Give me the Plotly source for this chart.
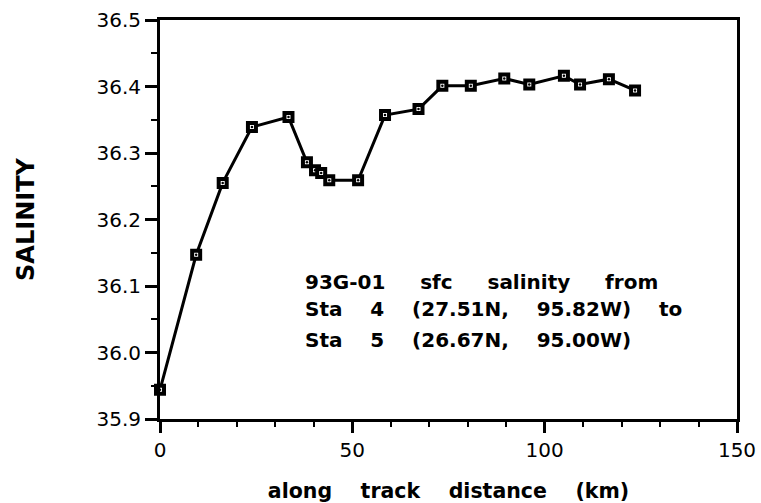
import plotly.graph_objects as go

# Surface salinity along the ship track, cruise 93G-01
distance_km = [0.0, 9.4, 16.3, 23.9, 33.4, 38.2, 40.3, 41.9, 44.0, 51.5,
               58.5, 67.2, 73.4, 80.8, 89.5, 96.0, 105.0, 109.2, 116.7, 123.5]
salinity = [35.944, 36.147, 36.255, 36.339, 36.354, 36.286, 36.274, 36.270, 36.259, 36.259,
            36.357, 36.366, 36.401, 36.401, 36.412, 36.403, 36.416, 36.403, 36.411, 36.394]

x_ticks = [0, 50, 100, 150]
y_ticks = [35.9, 36.0, 36.1, 36.2, 36.3, 36.4, 36.5]

NB = "\u00a0"
def spaced(words, n):
    return (NB * n).join(words)

note_lines = [
    spaced(["93G-01", "sfc", "salinity", "from"], 5),
    spaced(["Sta", "4", "(27.51N,", "95.82W)", "to"], 4),
    spaced(["Sta", "5", "(26.67N,", "95.00W)"], 4),
]

fig = go.Figure()
# connecting line with heavy open square markers
fig.add_trace(go.Scatter(
    x=distance_km, y=salinity, mode="lines+markers",
    line=dict(color="black", width=3),
    marker=dict(symbol="square", size=8, color="white",
                line=dict(color="black", width=4)),
    cliponaxis=False, showlegend=False,
))
# small centre dot inside each square
fig.add_trace(go.Scatter(
    x=distance_km, y=salinity, mode="markers",
    marker=dict(symbol="circle", size=2.5, color="black", line=dict(width=0)),
    cliponaxis=False, showlegend=False, hoverinfo="skip",
))

tick_font = dict(family="DejaVu Sans", size=20, color="black")
title_font = dict(family="DejaVu Sans", size=20, color="black", weight="bold")

fig.update_xaxes(
    range=[0, 150], tickvals=x_ticks, ticktext=[str(v) for v in x_ticks],
    showline=True, linecolor="black", linewidth=3, mirror=True,
    ticks="outside", ticklen=11, tickwidth=3, tickcolor="black",
    minor=dict(dtick=10, ticks="outside", ticklen=5, tickwidth=2, tickcolor="black"),
    showgrid=False, zeroline=False, tickfont=tick_font,
    title=dict(text=spaced(["along", "track", "distance", "(km)"], 4),
               font=dict(family="DejaVu Sans", size=20.5, color="black", weight="bold"),
               standoff=23),
)
fig.update_yaxes(
    range=[35.9, 36.5], tickvals=y_ticks, ticktext=[f"{v:.1f}" for v in y_ticks],
    showline=True, linecolor="black", linewidth=3, mirror=True,
    ticks="outside", ticklen=12, tickwidth=3, tickcolor="black",
    minor=dict(dtick=0.05, ticks="outside", ticklen=6, tickwidth=2, tickcolor="black"),
    showgrid=False, zeroline=False, tickfont=tick_font,
    title=dict(text="SALINITY", font=dict(family="DejaVu Sans", size=24,
                                          color="black", weight="bold"), standoff=56),
)

for txt, yp in zip(note_lines, [0.343, 0.2757, 0.198]):
    fig.add_annotation(text=txt, xref="paper", yref="paper", x=0.248, y=yp,
                       xanchor="left", yanchor="middle", showarrow=False,
                       font=title_font)

fig.update_layout(
    width=761, height=503,
    margin=dict(l=160, r=24, t=20, b=84, autoexpand=False),
    paper_bgcolor="white", plot_bgcolor="white",
)

fig.write_html("out.html")
